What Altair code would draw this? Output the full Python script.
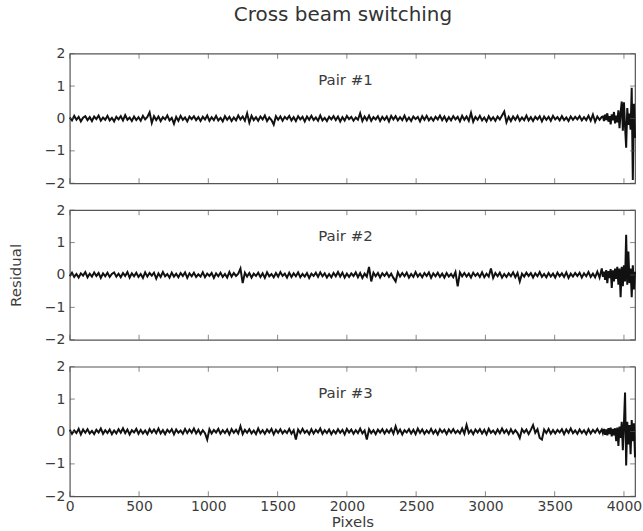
import altair as alt
import pandas as pd

# ---- data ----
x_ticks = [0, 500, 1000, 1500, 2000, 2500, 3000, 3500, 4000]
y_ticks = [-2, -1, 0, 1, 2]
pair_labels = ["Pair #1", "Pair #2", "Pair #3"]

# sample grid (pixel index): coarse body, finer near the noisy end
grid_body = [16 * i for i in range(241)]
grid_tail = [3848 + 8 * j for j in range(30)]

p1_body = [
    0.03, -0.06, 0.08, -0.04, 0.05, -0.09, 0.02, 0.07, -0.05, 0.04, -0.08, 0.06, -0.02, 0.09, -0.07, 0.03, -0.04, 0.08, -0.06, 0.02,
    -0.09, 0.05, -0.03, 0.07, -0.06, 0.10, -0.04, 0.03, -0.08, 0.06, -0.05, 0.04, -0.07, 0.08, -0.03, 0.05, 0.19, -0.14, 0.07, -0.05,
    0.06, -0.08, 0.04, -0.03, 0.09, -0.06, 0.02, -0.16, 0.05, -0.07, 0.08, -0.04, 0.03, -0.09, 0.06, -0.02, 0.07, -0.05, 0.04, -0.08,
    0.05, -0.03, 0.09, -0.07, 0.04, -0.05, 0.08, -0.06, 0.02, -0.09, 0.07, -0.04, 0.05, -0.08, 0.03, -0.06, 0.09, -0.03, 0.06, -0.07,
    0.16, -0.13, 0.08, -0.05, 0.04, -0.07, 0.06, -0.03, 0.09, -0.08, 0.03, -0.05, -0.19, 0.07, -0.04, 0.06, -0.07, 0.05, -0.02, 0.08,
    -0.06, 0.04, -0.08, 0.07, -0.03, 0.05, -0.09, 0.06, -0.04, 0.08, -0.05, 0.03, -0.07, 0.09, -0.06, 0.02, -0.08, 0.05, -0.03, 0.07,
    -0.05, 0.06, -0.09, 0.04, -0.06, 0.08, -0.02, 0.05, -0.07, 0.03, -0.04, 0.16, -0.08, 0.06, -0.05, 0.09, -0.07, 0.04, -0.03, 0.07,
    -0.08, 0.05, -0.04, 0.06, -0.09, 0.08, -0.03, 0.07, -0.06, 0.04, -0.05, 0.09, -0.07, 0.03, -0.08, 0.06, -0.02, 0.05, -0.09, 0.07,
    -0.04, 0.08, -0.06, 0.03, -0.07, 0.05, -0.03, 0.09, -0.05, 0.06, -0.08, 0.04, -0.06, 0.07, -0.03, 0.05, -0.09, 0.08, -0.04, 0.06,
    -0.07, 0.17, -0.10, 0.05, -0.04, 0.08, -0.06, 0.03, -0.09, 0.07, -0.05, 0.04, -0.07, 0.06, -0.03, 0.09, 0.21, -0.12, 0.05, -0.08,
    0.06, -0.04, 0.08, -0.07, 0.03, -0.05, 0.09, -0.06, 0.04, -0.08, 0.05, -0.03, 0.07, -0.09, 0.06, -0.04, 0.05, -0.07, 0.08, -0.03,
    0.04, -0.06, 0.07, -0.05, 0.03, -0.08, 0.06, -0.04, 0.05, -0.03, 0.07, -0.06, 0.04, -0.05, 0.08, -0.07, 0.12, -0.10, 0.06, -0.04,
    0.05,
]
p1_tail = [
    0.06, -0.08, 0.12, -0.05, 0.16, -0.10, 0.07, -0.18, 0.13, -0.06,
    0.20, -0.15, 0.09, -0.12, 0.25, -0.30, 0.18, 0.52, -0.38, 0.50,
    -0.25, -0.90, 0.32, -0.20, 0.15, -0.35, 0.95, -1.90, 0.45, -0.60,
]

p2_body = [
    -0.04, 0.07, -0.06, 0.03, -0.08, 0.05, -0.02, 0.09, -0.07, 0.04, -0.05, 0.08, -0.03, 0.06, -0.09, 0.05, -0.04, 0.07, -0.06, 0.03,
    0.08, -0.05, 0.04, -0.07, 0.06, -0.03, 0.09, -0.08, 0.05, -0.04, 0.07, -0.06, 0.03, -0.09, 0.08, -0.05, 0.06, -0.02, 0.07, -0.11,
    0.05, -0.06, 0.09, -0.04, 0.03, -0.08, 0.07, -0.05, 0.04, -0.07, 0.06, -0.03, 0.08, -0.09, 0.05, -0.04, 0.07, -0.06, 0.02, -0.05,
    0.08, -0.07, 0.04, -0.03, 0.06, -0.09, 0.05, -0.04, 0.07, -0.06, 0.03, -0.08, 0.09, -0.05, 0.06, -0.03, 0.04, 0.20, -0.25, 0.07,
    -0.05, 0.06, -0.08, 0.04, -0.03, 0.07, -0.06, 0.05, -0.09, 0.08, -0.04, 0.03, -0.07, 0.06, -0.05, 0.09, -0.03, 0.04, -0.08, 0.07,
    -0.06, 0.05, -0.04, 0.08, -0.07, 0.03, -0.05, 0.06, -0.09, 0.04, -0.03, 0.07, -0.06, 0.08, -0.04, 0.05, -0.08, 0.03, -0.07, 0.06,
    -0.04, 0.09, -0.05, 0.07, -0.08, 0.04, -0.06, 0.05, -0.03, 0.08, -0.07, 0.06, -0.09, 0.04, -0.05, 0.25, -0.20, 0.07, -0.04, 0.06,
    -0.08, 0.05, -0.03, 0.07, -0.06, 0.04, -0.09, -0.20, 0.08, -0.05, 0.06, -0.04, 0.07, -0.08, 0.03, -0.06, 0.09, -0.05, 0.04, -0.07,
    0.06, -0.03, 0.08, -0.09, 0.05, -0.04, 0.07, -0.06, 0.04, -0.08, 0.06, -0.05, 0.03, -0.07, 0.09, -0.35, 0.08, -0.04, 0.06, -0.05,
    0.04, -0.08, 0.07, -0.03, 0.05, -0.06, 0.08, -0.07, 0.04, -0.05, 0.20, -0.09, 0.06, -0.04, 0.07, -0.08, 0.03, -0.06, 0.05, -0.04,
    0.08, -0.07, 0.06, -0.20, 0.04, -0.05, 0.07, -0.03, 0.06, -0.08, 0.05, -0.04, 0.09, -0.06, 0.03, -0.07, 0.06, -0.05, 0.04, -0.08,
    0.07, -0.04, 0.05, -0.06, 0.08, -0.09, 0.04, -0.05, 0.06, -0.03, 0.07, -0.08, 0.05, -0.04, 0.09, -0.06, 0.04, -0.07, 0.10, -0.08,
    0.20,
]
p2_tail = [
    -0.06, 0.10, -0.15, 0.15, -0.25, 0.12, -0.10, 0.18, -0.40, 0.14,
    -0.20, 0.20, -0.12, 0.25, -0.30, 0.20, -0.69, 0.25, -0.35, 0.30,
    -0.20, 1.24, -0.30, 0.72, -0.25, 0.20, -0.69, 0.30, -0.45, 0.10,
]

p3_body = [
    0.05, -0.07, 0.03, -0.05, 0.08, -0.09, 0.06, -0.04, 0.07, -0.06, 0.02, -0.08, 0.05, -0.03, 0.09, -0.07, 0.04, -0.05, 0.06, -0.08,
    0.03, -0.06, 0.07, -0.04, 0.10, -0.05, 0.06, -0.09, 0.04, -0.03, 0.08, -0.07, 0.05, -0.06, 0.03, -0.08, 0.07, -0.04, 0.06, -0.05,
    0.09, -0.06, 0.04, -0.08, 0.05, -0.03, 0.07, -0.09, 0.06, -0.04, 0.03, -0.07, 0.08, -0.05, 0.06, -0.04, 0.09, -0.06, 0.05, -0.08,
    0.04, -0.05, -0.25, 0.07, -0.06, 0.05, -0.03, 0.08, -0.07, 0.04, -0.05, 0.06, -0.09, 0.07, -0.04, 0.05, -0.06, 0.16, -0.08, 0.05,
    -0.04, 0.07, -0.06, 0.03, -0.08, 0.09, -0.05, 0.04, -0.07, 0.06, -0.03, 0.08, -0.09, 0.05, -0.04, 0.07, -0.06, 0.03, -0.05, 0.08,
    -0.07, 0.04, -0.25, 0.06, -0.05, 0.08, -0.04, 0.03, -0.08, 0.07, -0.06, 0.05, -0.03, 0.09, -0.07, 0.04, -0.05, 0.06, -0.08, 0.03,
    -0.06, 0.07, -0.04, 0.05, -0.09, 0.08, -0.03, 0.06, -0.07, 0.04, -0.05, 0.09, -0.06, 0.03, -0.25, 0.07, -0.05, 0.04, -0.08, 0.06,
    -0.03, 0.07, -0.06, 0.05, -0.04, 0.08, -0.07, 0.16, -0.05, 0.06, -0.09, 0.04, -0.03, 0.07, -0.06, 0.05, -0.08, 0.09, -0.04, 0.06,
    -0.07, 0.03, -0.05, 0.08, -0.06, 0.04, -0.09, 0.07, -0.03, 0.05, -0.08, 0.06, -0.04, 0.07, -0.05, 0.03, -0.06, 0.09, -0.07, 0.20,
    -0.05, 0.04, -0.08, 0.06, -0.03, 0.07, -0.06, 0.05, -0.09, 0.08, -0.04, 0.03, -0.07, 0.06, -0.05, 0.09, -0.04, 0.05, -0.08, 0.07,
    -0.06, 0.04, -0.05, -0.20, 0.07, -0.03, 0.06, -0.08, 0.05, 0.20, -0.04, 0.07, -0.20, -0.25, 0.06, -0.05, 0.08, -0.07, 0.04, -0.06,
    0.05, -0.03, 0.07, -0.08, 0.06, -0.04, 0.09, -0.05, 0.03, -0.07, 0.06, -0.05, 0.04, -0.08, 0.07, -0.06, 0.05, -0.03, 0.08, -0.05,
    0.06,
]
p3_tail = [
    -0.05, 0.08, -0.10, 0.06, -0.12, 0.10, -0.08, 0.12, -0.15, 0.08,
    -0.12, 0.10, -0.30, 0.12, -0.45, 0.15, -0.20, 0.30, -0.58, 0.25,
    1.20, -1.05, 0.30, -0.40, 0.20, -0.70, 0.35, -0.30, 0.25, -0.80,
]

# ---- styling ----
FONT = "DejaVu Sans"
TXT = "#3c3c3c"
FRAME = "#555555"
W, H = 567, 130
grid = grid_body + grid_tail


def panel(vals, label, bottom=False, middle=False):
    df = pd.DataFrame({"px": grid, "r": vals})
    if bottom:
        xaxis = alt.Axis(values=x_ticks, format="d", ticks=False, domain=False, grid=False,
                         labelFontSize=14, labelColor=TXT, labelFont=FONT,
                         labelPadding=3, labelFlush=False,
                         title="Pixels", titleFontSize=15, titleColor=TXT,
                         titleFont=FONT, titleFontWeight="normal", titlePadding=1)
    else:
        xaxis = None
    yaxis = alt.Axis(values=y_ticks, ticks=False, domain=False, grid=False,
                     labelFontSize=14, labelColor=TXT, labelFont=FONT,
                     labelPadding=5, labelFlush=False,
                     title="Residual" if middle else "", titleFontSize=15,
                     titleColor=TXT, titleFont=FONT, titleFontWeight="normal",
                     titlePadding=21)
    xs = alt.Scale(domain=[0, 4080], nice=False, zero=False)
    ys = alt.Scale(domain=[-2, 2], nice=False)
    X = lambda: alt.X("px:Q", scale=xs, axis=xaxis)
    Y = lambda: alt.Y("r:Q", scale=ys, axis=yaxis)

    line = alt.Chart(df).mark_line(color="#111111", strokeWidth=2.0).encode(x=X(), y=Y())
    xt = pd.DataFrame({"px": x_ticks})
    yt = pd.DataFrame({"r": y_ticks})
    tick_kw = dict(size=5, thickness=1, color=FRAME)
    t_top = alt.Chart(xt).mark_tick(orient="vertical", **tick_kw).encode(
        x=X(), y=alt.value(2.5))
    t_bot = alt.Chart(xt).mark_tick(orient="vertical", **tick_kw).encode(
        x=X(), y=alt.value(H - 2.5))
    t_left = alt.Chart(yt).mark_tick(orient="horizontal", **tick_kw).encode(
        y=Y(), x=alt.value(2.5))
    t_right = alt.Chart(yt).mark_tick(orient="horizontal", **tick_kw).encode(
        y=Y(), x=alt.value(W - 2.5))
    txt = alt.Chart(pd.DataFrame({"px": [1990], "r": [1.2], "t": [label]})).mark_text(
        font=FONT, fontSize=15, color=TXT, baseline="middle", align="center"
    ).encode(x=X(), y=Y(), text="t:N")
    return alt.layer(line, t_top, t_bot, t_left, t_right, txt).properties(width=W, height=H)


chart = alt.vconcat(
    panel(p1_body + p1_tail, pair_labels[0]),
    panel(p2_body + p2_tail, pair_labels[1], middle=True),
    panel(p3_body + p3_tail, pair_labels[2], bottom=True),
    spacing=11,
).properties(
    title=alt.TitleParams("Cross beam switching", font=FONT, fontSize=20,
                          fontWeight="normal", color="#333333", anchor="middle",
                          offset=21, dx=18),
    padding={"left": 7, "top": 4, "right": 0, "bottom": 0},
).configure_view(stroke=FRAME, strokeWidth=1.2).configure_axis(titleFontSize=15)

chart.save("out.html", embed_options={"renderer": "svg", "actions": False})
